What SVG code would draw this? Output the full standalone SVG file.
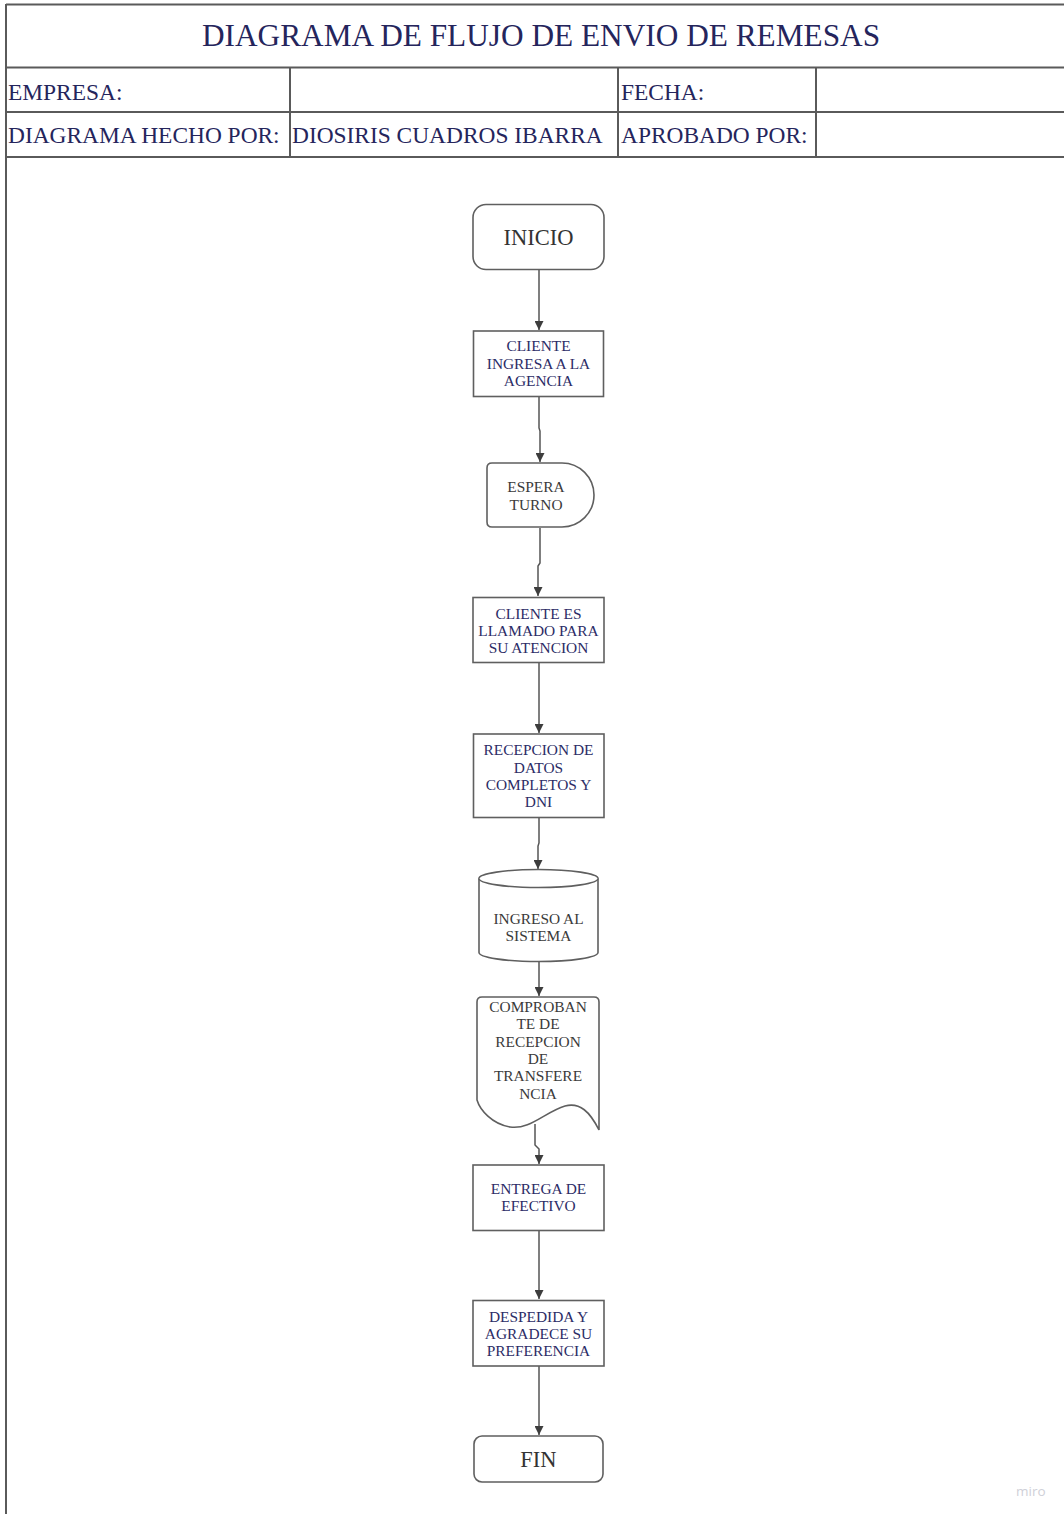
<svg xmlns="http://www.w3.org/2000/svg" width="1064" height="1514" viewBox="0 0 1064 1514">
  <defs>
    <style>
      .frame { fill: none; stroke: #5a5a5a; stroke-width: 2; }
      .shape { fill: #ffffff; stroke: #5f5f5f; stroke-width: 1.6; }
      .conn { fill: none; stroke: #555555; stroke-width: 1.5; }
      .serif { font-family: 'Liberation Serif', 'Times New Roman', 'DejaVu Serif', serif; }
      .hdr { font-size: 23.4px; fill: #25255c; }
      .title { font-size: 31.3px; fill: #25255c; text-anchor: middle; }
      .lbl { font-size: 15.4px; text-anchor: middle; }
      .navy { fill: #2c2c66; }
      .gray { fill: #3a3a3a; }
      .big { font-size: 22.5px; fill: #333333; text-anchor: middle; }
      .wm { font-family: 'Open Sans', 'Liberation Sans', sans-serif; font-size: 13.5px; fill: #cfd0d8; }
    </style>
    <marker id="arrow" viewBox="0 0 10 10" refX="10" refY="5" markerWidth="9" markerHeight="9" markerUnits="userSpaceOnUse" orient="auto">
      <path d="M0,0 L10,5 L0,10 z" fill="#3d3d3d"/>
    </marker>
  </defs>

  <rect x="0" y="0" width="1064" height="1514" fill="#ffffff"/>

  <!-- header table -->
  <g id="header">
    <line class="frame" x1="6" y1="4.5" x2="1064" y2="4.5"/>
    <line class="frame" x1="6" y1="4" x2="6" y2="1514"/>
    <line class="frame" x1="6" y1="67.5" x2="1064" y2="67.5"/>
    <line class="frame" x1="6" y1="112" x2="1064" y2="112"/>
    <line class="frame" x1="6" y1="157" x2="1064" y2="157"/>
    <line class="frame" x1="290" y1="67.5" x2="290" y2="157"/>
    <line class="frame" x1="618" y1="67.5" x2="618" y2="157"/>
    <line class="frame" x1="816" y1="67.5" x2="816" y2="157"/>
    <text class="serif title" x="541" y="46">DIAGRAMA DE FLUJO DE ENVIO DE REMESAS</text>
    <text class="serif hdr" x="8" y="99.5">EMPRESA:</text>
    <text class="serif hdr" x="621" y="99.5">FECHA:</text>
    <text class="serif hdr" x="8" y="143">DIAGRAMA HECHO POR:</text>
    <text class="serif hdr" x="292" y="143">DIOSIRIS CUADROS IBARRA</text>
    <text class="serif hdr" x="621" y="143">APROBADO POR:</text>
  </g>

  <!-- connectors -->
  <g id="connectors">
    <path class="conn" d="M539,270 V330" marker-end="url(#arrow)"/>
    <path class="conn" d="M539,397 V428 L540,431 V462" marker-end="url(#arrow)"/>
    <path class="conn" d="M540,528 V563 L538,566 V596" marker-end="url(#arrow)"/>
    <path class="conn" d="M539,663 V733" marker-end="url(#arrow)"/>
    <path class="conn" d="M539,818 V843 L538,846 V869" marker-end="url(#arrow)"/>
    <path class="conn" d="M539,962 V996" marker-end="url(#arrow)"/>
    <path class="conn" d="M535,1124 V1145 L539,1149 V1164" marker-end="url(#arrow)"/>
    <path class="conn" d="M539,1231 V1299" marker-end="url(#arrow)"/>
    <path class="conn" d="M539,1366 V1435" marker-end="url(#arrow)"/>
  </g>

  <g id="inicio">
    <rect class="shape" x="473" y="204.5" width="131" height="65" rx="13"/>
    <text class="serif big" x="538.5" y="244.5">INICIO</text>
  </g>

  <g id="cliente-ingresa">
    <rect class="shape" x="473.5" y="331" width="130" height="65.5"/>
    <text class="serif lbl navy" x="538.5" y="351">CLIENTE</text>
    <text class="serif lbl navy" x="538.5" y="368.5">INGRESA A LA</text>
    <text class="serif lbl navy" x="538.5" y="385.5">AGENCIA</text>
  </g>

  <g id="espera-turno">
    <path class="shape" d="M492,463 H562 A32,32 0 0 1 562,527 H492 Q487,527 487,522 V468 Q487,463 492,463 Z"/>
    <text class="serif lbl gray" x="536" y="492">ESPERA</text>
    <text class="serif lbl gray" x="536" y="509.5">TURNO</text>
  </g>

  <g id="cliente-llamado">
    <rect class="shape" x="473" y="597.5" width="131" height="65"/>
    <text class="serif lbl navy" x="538.5" y="618.5">CLIENTE ES</text>
    <text class="serif lbl navy" x="538.5" y="635.5">LLAMADO PARA</text>
    <text class="serif lbl navy" x="538.5" y="652.5">SU ATENCION</text>
  </g>

  <g id="recepcion-datos">
    <rect class="shape" x="473.5" y="734" width="130.5" height="83.5"/>
    <text class="serif lbl navy" x="538.5" y="755">RECEPCION DE</text>
    <text class="serif lbl navy" x="538.5" y="772.5">DATOS</text>
    <text class="serif lbl navy" x="538.5" y="789.5">COMPLETOS Y</text>
    <text class="serif lbl navy" x="538.5" y="807">DNI</text>
  </g>

  <g id="ingreso-sistema">
    <path class="shape" d="M479,878.5 A59.5,9 0 0 1 598,878.5 V952.5 A59.5,9 0 0 1 479,952.5 Z"/>
    <path class="shape" fill="none" d="M479,878.5 A59.5,9 0 0 0 598,878.5"/>
    <text class="serif lbl gray" x="538.5" y="923.5">INGRESO AL</text>
    <text class="serif lbl gray" x="538.5" y="940.5">SISTEMA</text>
  </g>

  <g id="comprobante">
    <path class="shape" d="M477,1002 Q477,997 482,997 H594 Q599,997 599,1002 V1130 C590,1112 580,1102 565,1106 C545,1112 530,1130 510,1127 C492,1124 480,1110 477,1100 Z"/>
    <text class="serif lbl gray" x="538" y="1012">COMPROBAN</text>
    <text class="serif lbl gray" x="538" y="1029.3">TE DE</text>
    <text class="serif lbl gray" x="538" y="1046.6">RECEPCION</text>
    <text class="serif lbl gray" x="538" y="1063.9">DE</text>
    <text class="serif lbl gray" x="538" y="1081.2">TRANSFERE</text>
    <text class="serif lbl gray" x="538" y="1098.5">NCIA</text>
  </g>

  <g id="entrega-efectivo">
    <rect class="shape" x="473" y="1165" width="131" height="65.5"/>
    <text class="serif lbl navy" x="538.5" y="1194">ENTREGA DE</text>
    <text class="serif lbl navy" x="538.5" y="1210.5">EFECTIVO</text>
  </g>

  <g id="despedida">
    <rect class="shape" x="473" y="1300.5" width="131" height="65.5"/>
    <text class="serif lbl navy" x="538.5" y="1321.5">DESPEDIDA Y</text>
    <text class="serif lbl navy" x="538.5" y="1338.5">AGRADECE SU</text>
    <text class="serif lbl navy" x="538.5" y="1356">PREFERENCIA</text>
  </g>

  <g id="fin">
    <rect class="shape" x="474" y="1436" width="129" height="46" rx="8"/>
    <text class="serif big" x="538.5" y="1467">FIN</text>
  </g>

  <text class="wm" x="1016" y="1496">miro</text>
</svg>
